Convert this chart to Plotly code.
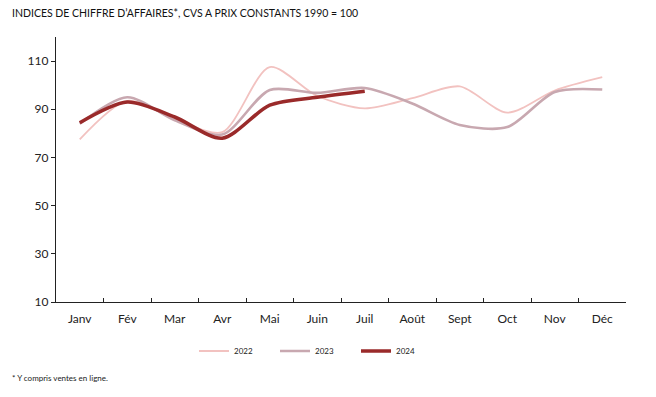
import plotly.graph_objects as go

months = ["Janv", "Fév", "Mar", "Avr", "Mai", "Juin", "Juil", "Août", "Sept", "Oct", "Nov", "Déc"]
v2022 = [77.5, 93.5, 86.0, 80.5, 107.5, 95.5, 90.4, 94.6, 99.5, 88.6, 97.8, 103.3]
v2023 = [84.0, 95.0, 85.4, 79.5, 98.0, 96.8, 98.8, 92.4, 83.5, 82.6, 97.2, 98.2]
v2024 = [84.4, 93.0, 86.8, 78.0, 91.7, 95.0, 97.5]
y_ticks = [10, 30, 50, 70, 90, 110]

FONT = "Lato"
W, H = 648, 389
L, R, T, B = 48, 30, 29, 95
PW, PH = W - L - R, H - T - B

fig = go.Figure()
fig.add_trace(go.Scatter(x=months, y=v2022, name="2022", mode="lines",
                         line=dict(color="#F2C2C0", width=1.8, shape="spline", smoothing=0.8)))
fig.add_trace(go.Scatter(x=months, y=v2023, name="2023", mode="lines",
                         line=dict(color="#C8A8B0", width=2.6, shape="spline", smoothing=0.8)))
fig.add_trace(go.Scatter(x=months[:len(v2024)], y=v2024, name="2024", mode="lines",
                         line=dict(color="#9A2A2A", width=3.6, shape="spline", smoothing=0.8)))

fig.update_layout(
    width=W, height=H,
    margin=dict(l=L, r=R, t=T, b=B, pad=0),
    paper_bgcolor="white", plot_bgcolor="white",
    font=dict(family=FONT, color="#222222", size=12),
    showlegend=True,
    legend=dict(orientation="h", x=(186 - L) / PW, y=-(343 - (H - B)) / PH,
                xanchor="left", yanchor="middle",
                font=dict(size=8, family=FONT), entrywidth=36, itemwidth=30,
                bgcolor="rgba(0,0,0,0)"),
    xaxis=dict(type="category", range=[-0.5, 11.5], showline=True, linecolor="#222222",
               linewidth=1.3, ticks="inside", tickson="boundaries", ticklen=4,
               tickcolor="#222222", showgrid=False, tickfont=dict(size=12, family=FONT),
               ticklabelstandoff=5, zeroline=False),
    yaxis=dict(range=[10, 120], tickvals=y_ticks, showline=True, linecolor="#222222",
               linewidth=1.3, ticks="outside", ticklen=4, tickcolor="#222222",
               showgrid=False, zeroline=False, tickfont=dict(size=12, family=FONT)),
    annotations=[
        dict(text="INDICES DE CHIFFRE D’AFFAIRES*, CVS À PRIX CONSTANTS 1990 = 100",
             xref="paper", yref="paper", x=(2 - L) / PW, y=1 + (T - 4) / PH,
             xanchor="left", yanchor="middle",
             showarrow=False, font=dict(size=10.5, family=FONT, color="#111111")),
        dict(text="* Y compris ventes en ligne.",
             xref="paper", yref="paper", x=(2 - L) / PW, y=-(370 - (H - B)) / PH,
             xanchor="left", yanchor="middle",
             showarrow=False, font=dict(size=8, family=FONT, color="#222222")),
    ],
)
fig.write_html("out.html")
